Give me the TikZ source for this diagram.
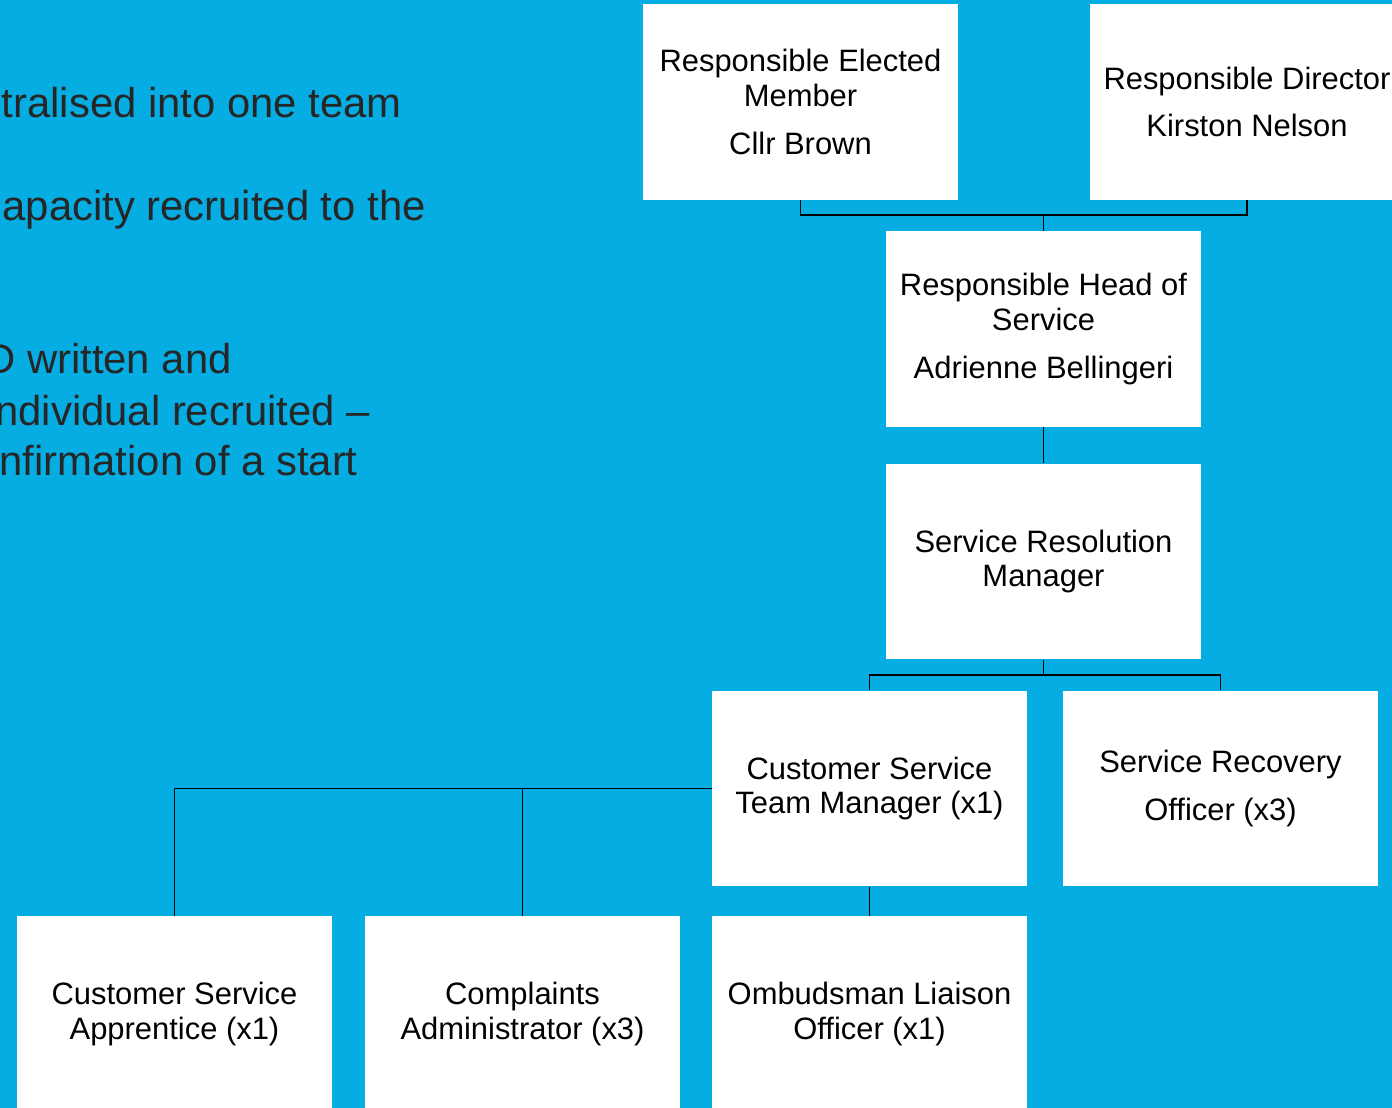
\documentclass[tikz,border=0pt]{standalone}
\usepackage{fontspec}
\setmainfont{Liberation Sans}
\definecolor{skyblue}{RGB}{5,173,226}
\definecolor{slidetext}{RGB}{38,38,38}
\tikzset{
  post/.style={fill=white, minimum width=6.3cm, minimum height=3.92cm, inner sep=0pt,
    align=center, font=\fontsize{17.6}{19.8}\selectfont},
  bullet/.style={anchor=base east, inner sep=0pt, text=slidetext,
    font=\fontsize{23.8}{28.3}\selectfont},
  link/.style={line width=0.7pt}
}
\begin{document}
\begin{tikzpicture}[x=0.02cm,y=-0.02cm]
  \clip (0,0) rectangle (1392,1108);
  \fill[skyblue] (0,0) rectangle (1392,1108);

  \node[bullet] (line1) at (402,118) {tralised into one team};
  \node[bullet] (line2) at (426,220) {apacity recruited to the};
  \node[bullet] (line3) at (232,373) {D written and};
  \node[bullet] (line4) at (370,425) {ndividual recruited --};
  \node[bullet] (line5) at (358,475) {nfirmation of a start};

  \node[post] (member) at (800.5,102) {Responsible Elected\\Member\\[7.4pt]Cllr Brown};
  \node[post] (director) at (1247,102) {Responsible Director\\[7.4pt]Kirston Nelson};
  \node[post] (head) at (1043.5,329) {Responsible Head of\\Service\\[7.4pt]Adrienne Bellingeri};
  \node[post] (srm) at (1043.5,561.5) {Service Resolution\\Manager};
  \node[post] (cstm) at (869.5,788.5) {Customer Service\\Team Manager (x1)};
  \node[post] (sro) at (1220.5,788.5) {Service Recovery\\[7.4pt]Officer (x3)};
  \node[post] (apprentice) at (174.5,1014) {Customer Service\\Apprentice (x1)};
  \node[post] (admin) at (522.5,1014) {Complaints\\Administrator (x3)};
  \node[post] (ombudsman) at (869.5,1014) {Ombudsman Liaison\\Officer (x1)};

  \coordinate (topjoin) at (1043.5,215);
  \coordinate (midjoin) at (1043.5,675);
  \draw[link] (member.south) |- (topjoin) -| (director.south);
  \draw[link] (topjoin) -- (head.north);
  \draw[link] (head.south) -- (srm.north);
  \draw[link] (srm.south) -- (midjoin);
  \draw[link] (cstm.north) |- (midjoin) -| (sro.north);
  \draw[link] (cstm.west) -| (apprentice.north);
  \draw[link] (admin.north) |- (cstm.west);
  \draw[link] (cstm.south) -- (ombudsman.north);
\end{tikzpicture}
\end{document}
